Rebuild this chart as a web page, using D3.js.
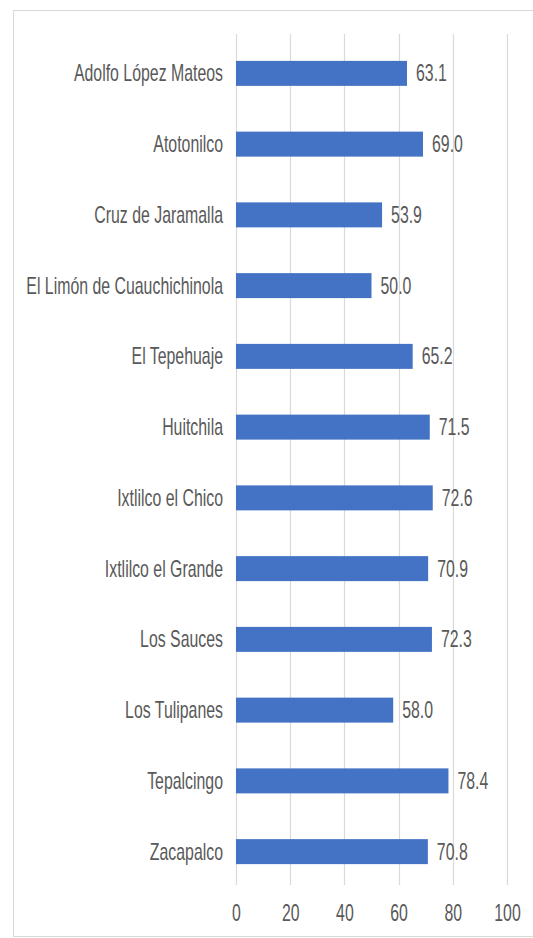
<!DOCTYPE html>
<html>
<head>
<meta charset="utf-8">
<script src="https://cdn.jsdelivr.net/npm/d3@7"></script>
<style>
  html, body { margin: 0; padding: 0; background: #fff; }
  svg { display: block; }
</style>
</head>
<body>
<svg id="chart" width="533" height="938"></svg>
<script>
const categories = [
  "Adolfo López Mateos", "Atotonilco", "Cruz de Jaramalla", "El Limón de Cuauchichinola",
  "El Tepehuaje", "Huitchila", "Ixtlilco el Chico", "Ixtlilco el Grande",
  "Los Sauces", "Los Tulipanes", "Tepalcingo", "Zacapalco"
];
const values = [63.1, 69.0, 53.9, 50.0, 65.2, 71.5, 72.6, 70.9, 72.3, 58.0, 78.4, 70.8];
const xTicks = [0, 20, 40, 60, 80, 100];

const W = 533, H = 938;
const svg = d3.select("#chart");
const fontFamily = "'Liberation Sans', Arial, sans-serif";
const textColor = "#595959";
const fs = 23;
const sx = 0.69;

// outer frame
svg.append("rect")
  .attr("x", 13.5).attr("y", 10.5)
  .attr("width", 560).attr("height", 926)
  .attr("fill", "#fff").attr("stroke", "#d9d9d9").attr("stroke-width", 1);

const x = d3.scaleLinear().domain([0, 100]).range([236, 507]);
const y = d3.scaleBand().domain(categories).range([38, 887])
  .paddingInner(0.647).paddingOuter(0.3235).align(0.5);

// gridlines
svg.append("g").selectAll("line").data(xTicks).join("line")
  .attr("x1", d => Math.round(x(d)) + 0.5).attr("x2", d => Math.round(x(d)) + 0.5)
  .attr("y1", 34).attr("y2", 885)
  .attr("stroke", "#d9d9d9").attr("stroke-width", 1.2);

// bars
svg.append("g").selectAll("rect").data(values).join("rect")
  .attr("x", x(0))
  .attr("y", (d, i) => y(categories[i]))
  .attr("width", d => x(d) - x(0))
  .attr("height", y.bandwidth())
  .attr("fill", "#4472C4");

// value labels
svg.append("g").selectAll("text").data(values).join("text")
  .attr("transform", (d, i) => `translate(${x(d) + 9},${y(categories[i]) + y.bandwidth() / 2}) scale(${sx},1)`)
  .attr("dy", "0.35em")
  .attr("font-family", fontFamily).attr("font-size", fs)
  .attr("fill", textColor)
  .text(d => d.toFixed(1));

// y axis (category labels)
const yAxis = svg.append("g")
  .attr("transform", `translate(${x(0)},0)`)
  .call(d3.axisLeft(y).tickSize(0).tickPadding(0));
yAxis.select(".domain").remove();
yAxis.selectAll("text")
  .attr("x", 0).attr("dy", "0.35em")
  .attr("transform", `translate(-13,0) scale(${sx},1)`)
  .attr("font-family", fontFamily).attr("font-size", fs)
  .attr("fill", textColor).attr("text-anchor", "end");

// x axis (tick labels)
const xAxis = svg.append("g")
  .attr("transform", `translate(0,913)`)
  .call(d3.axisBottom(x).tickValues(xTicks).tickSize(0).tickPadding(0));
xAxis.select(".domain").remove();
xAxis.selectAll("text")
  .attr("y", 0).attr("dy", "0.35em")
  .attr("transform", `scale(${sx},1)`)
  .attr("font-family", fontFamily).attr("font-size", fs)
  .attr("fill", textColor);
</script>
</body>
</html>
